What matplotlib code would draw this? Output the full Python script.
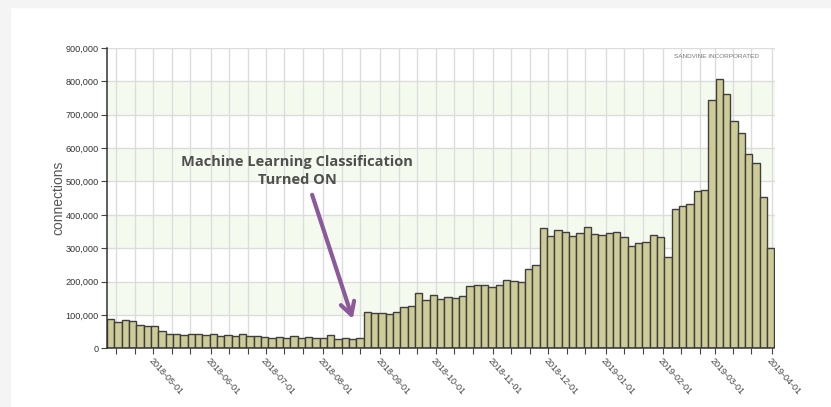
import matplotlib
matplotlib.use("Agg")
import matplotlib.pyplot as plt
import matplotlib.dates as mdates
from matplotlib.ticker import FuncFormatter
from matplotlib.patches import Rectangle
import numpy as np
from datetime import datetime

# ---- data (connections per ~4-day bin) ----
connections = [
    87000, 79000, 84000, 81000, 70000, 66000, 66000, 53000, 42000, 42000,
    40000, 42000, 42000, 40000, 42000, 38000, 40000, 38000, 42000, 37000,
    36000, 33000, 31000, 34000, 31000, 36000, 32000, 34000, 31000, 31000,
    39000, 28000, 31000, 28000, 31000,
    108000, 105000, 105000, 103000, 110000, 125000, 128000, 165000, 146000, 160000,
    149000, 154000, 152000, 157000, 186000, 189000, 191000, 185000, 191000, 206000,
    203000, 200000, 238000, 251000, 362000, 338000, 356000, 349000,
    338000, 346000, 363000, 343000, 341000, 346000, 349000, 333000, 306000, 316000,
    319000, 341000, 335000, 273000, 416000, 425000, 432000, 472000, 475000, 745000,
    807000, 763000, 682000, 646000, 583000, 555000, 454000, 302000,
]
range_start = datetime(2018, 4, 5, 21)
range_end = datetime(2019, 4, 2, 12)
y_ticks = [0, 100000, 200000, 300000, 400000, 500000, 600000, 700000, 800000, 900000]
annotation_text = "Machine Learning Classification\nTurned ON"
watermark = "SANDVINE INCORPORATED"

W, H = 831, 407
fig = plt.figure(figsize=(W / 100, H / 100), dpi=100)
fig.patch.set_facecolor("white")
# light grey page strips
fig.patches.append(Rectangle((0, 0), 10 / W, 1, transform=fig.transFigure,
                             color="#f4f4f4", zorder=-10))
fig.patches.append(Rectangle((0, 1 - 7 / H), 1, 7 / H, transform=fig.transFigure,
                             color="#f4f4f4", zorder=-10))

ax = fig.add_axes([107 / W, (H - 348.3) / H, (774.5 - 107) / W, (348.3 - 48) / H])
ax.set_facecolor("white")

x0 = mdates.date2num(range_start)
x1 = mdates.date2num(range_end)
n = len(connections)
step = (x1 - x0) / n
lefts = x0 + step * np.arange(n)

# alternating bands
for lo in (100000, 300000, 500000, 700000):
    ax.axhspan(lo, lo + 100000, color="#f5faef", zorder=0.1, lw=0)

ax.bar(lefts, connections, width=step, align="edge", color="#cdcb97",
       edgecolor="#3f3f3f", linewidth=1.0, zorder=3)

ax.set_xlim(x0, x1)
ax.set_ylim(0, 900000)

ax.xaxis.set_major_locator(mdates.MonthLocator(bymonthday=1))
ax.xaxis.set_minor_locator(mdates.DayLocator(bymonthday=[11, 21]))
ax.xaxis.set_major_formatter(mdates.DateFormatter("%Y-%m-%d"))
ax.set_yticks(y_ticks)
ax.yaxis.set_major_formatter(FuncFormatter(lambda v, p: f"{v:,.0f}"))

ax.grid(True, which="both", axis="x", color="#dcdcdc", lw=1.0, zorder=1)
ax.grid(True, which="major", axis="y", color="#dcdcdc", lw=1.0, zorder=1)
ax.set_axisbelow(True)

for s in ("top", "right"):
    ax.spines[s].set_visible(False)
for s in ("left", "bottom"):
    ax.spines[s].set_color("#333333")
    ax.spines[s].set_linewidth(1.1)
    ax.spines[s].set_zorder(5)

ax.tick_params(axis="y", which="major", length=4, width=0.8, color="#444444",
               labelsize=6.6, labelcolor="#333333", pad=2)
ax.tick_params(axis="x", which="both", length=4, width=0.8, color="#444444",
               labelsize=6.5, labelcolor="#444444", pad=2)
for lbl in ax.get_yticklabels():
    lbl.set_family("Liberation Sans")
for lbl in ax.get_xticklabels():
    lbl.set_family("Liberation Sans")
    lbl.set_rotation(-48)
    lbl.set_ha("left")
    lbl.set_va("top")
    lbl.set_rotation_mode("anchor")

ax.set_ylabel("connections", fontsize=10, color="#555555", family="Liberation Sans",
              labelpad=0)

# annotation
text_x = mdates.date2num(datetime(2018, 7, 18))
ax.text(text_x, 532000, annotation_text, ha="center", va="center",
        fontsize=10.5, fontweight="bold", color="#4f4f4f", family="Open Sans",
        linespacing=1.4, zorder=6)
ax.annotate("", xy=(mdates.date2num(datetime(2018, 8, 17)), 88000),
            xytext=(mdates.date2num(datetime(2018, 7, 26)), 460000),
            arrowprops=dict(arrowstyle="->,head_length=0.9,head_width=0.5",
                            color="#8a5a9a", lw=3.0, shrinkA=0, shrinkB=0),
            zorder=6)

fig.text(716 / W, 1 - 57 / H, watermark, ha="center", va="center", fontsize=4.6,
         color="#777777", family="Liberation Sans")

fig.savefig("out.png", dpi=100)
